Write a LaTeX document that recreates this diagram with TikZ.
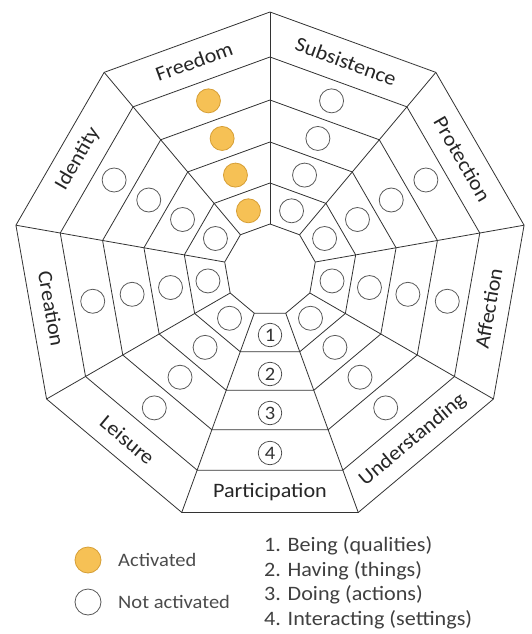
\documentclass[tikz,border=0pt]{standalone}
\usepackage{fontspec}
\setmainfont[FakeStretch=1.08]{Carlito}
\definecolor{actfill}{HTML}{F6C155}
\definecolor{actdraw}{HTML}{D69E35}
\definecolor{ink}{HTML}{333333}
\begin{document}
\begin{tikzpicture}[x=1pt,y=1pt,
  grid/.style={draw=ink, line width=0.8pt, line join=round},
  needlabel/.style={font=\fontsize{20.5}{24}\selectfont, text=black!85, inner sep=0pt},
  marker/.style={draw=black!65, line width=0.8pt},
  activated/.style={fill=actfill, draw=actdraw, line width=0.8pt},
  levelnum/.style={circle, draw=black!75, line width=0.7pt, minimum size=23.5pt, inner sep=0pt,
    font=\fontsize{19}{19}\selectfont, text=black!80},
  legendtext/.style={font=\fontsize{19}{23}\selectfont, text=black!70, anchor=west, inner sep=0pt},
  listtext/.style={font=\fontsize{20.5}{24}\selectfont, text=black!75, anchor=west, inner sep=0pt}]
\useasboundingbox (0,0) rectangle (532,-634);
\fill[white] (0,0) rectangle (532,-634);

\begin{scope}[shift={(270,-270)}]
  % concentric nonagons: inner hole, four level rings, outer label band
  \foreach \r in {46,87,128,170,213,258}
    \draw[grid] (90:\r) \foreach \k in {1,...,8} { -- (90+40*\k:\r) } -- cycle;
  % spokes separating the nine needs
  \foreach \k in {0,...,8}
    \draw[grid] (90+40*\k:46) -- (90+40*\k:258);

  % need names in the outer band
  \foreach \name/\ang/\rot in {Freedom/110/20, Subsistence/70/-20, Protection/30/-60,
      Affection/-10/80, Understanding/-50/40, Participation/-90/0,
      Leisure/-130/-40, Creation/-170/-80, Identity/150/60}
    \node[needlabel, rotate=\rot] (lbl-\name) at (\ang:222) {\name};

  % activated satisfiers (Freedom)
  \foreach \r in {63,101,140,180}
    \path[activated] (110:\r) circle[radius=12];

  % not activated satisfiers
  \foreach \ang in {70,30,-10,-50,-130,-170,150}
    \foreach \r in {63,101,140,180}
      \draw[marker] (\ang:\r) circle[radius=12];

  % level numbers (Participation)
  \node[levelnum] (lev-1) at (-90:65) {1};
  \node[levelnum] (lev-2) at (-90:104) {2};
  \node[levelnum] (lev-3) at (-90:143) {3};
  \node[levelnum] (lev-4) at (-90:183) {4};
\end{scope}

% legend
\path[activated] (88,-560) circle[radius=13];
\node[legendtext] (key-on-text) at (118,-560) {Activated};
\draw[marker] (88,-602) circle[radius=13];
\node[legendtext] (key-off-text) at (118,-602) {Not activated};

\node[listtext] (list-1) at (264,-546) {1. Being (qualities)};
\node[listtext] (list-2) at (264,-571) {2. Having (things)};
\node[listtext] (list-3) at (264,-595) {3. Doing (actions)};
\node[listtext] (list-4) at (264,-620) {4. Interacting (settings)};
\end{tikzpicture}
\end{document}
